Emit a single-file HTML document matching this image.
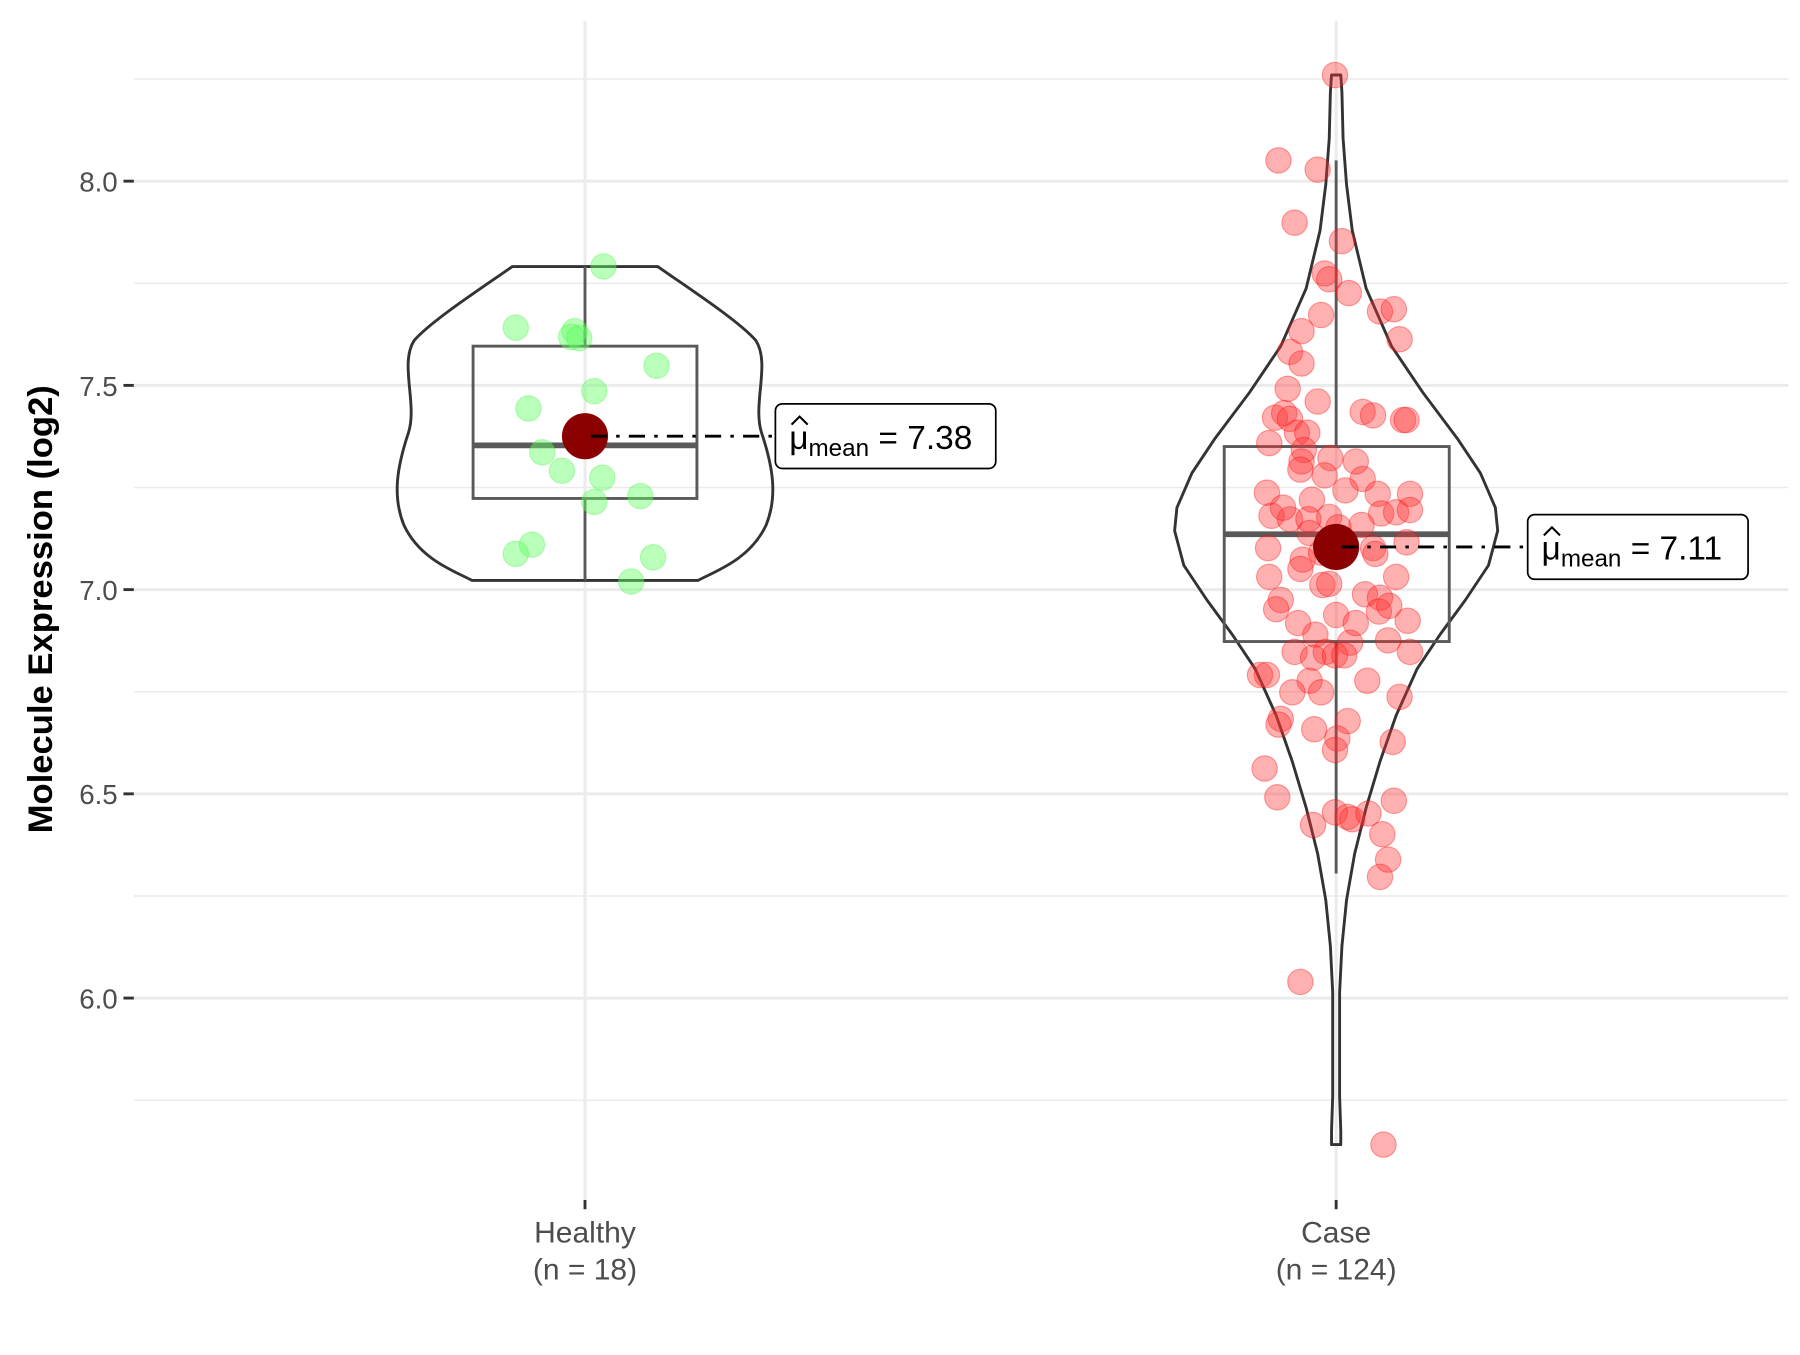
<!DOCTYPE html>
<html><head><style>html,body{margin:0;padding:0;background:#fff}</style></head><body>
<svg width="1800" height="1350" viewBox="0 0 1560 1170" xmlns="http://www.w3.org/2000/svg" font-family="Liberation Sans, sans-serif">
<rect width="1560" height="1170" fill="#fff"/>
<g stroke="#ebebeb" stroke-width="1.3">
<line x1="116" x2="1550" y1="68.5" y2="68.5"/><line x1="116" x2="1550" y1="245.5" y2="245.5"/>
<line x1="116" x2="1550" y1="422.5" y2="422.5"/><line x1="116" x2="1550" y1="599.5" y2="599.5"/>
<line x1="116" x2="1550" y1="776.5" y2="776.5"/><line x1="116" x2="1550" y1="953.5" y2="953.5"/>
</g>
<g stroke="#ebebeb" stroke-width="2.6">
<line x1="116" x2="1550" y1="157" y2="157"/><line x1="116" x2="1550" y1="334" y2="334"/>
<line x1="116" x2="1550" y1="511" y2="511"/><line x1="116" x2="1550" y1="688" y2="688"/>
<line x1="116" x2="1550" y1="865" y2="865"/>
<line x1="507" x2="507" y1="18" y2="1040"/><line x1="1158" x2="1158" y1="18" y2="1040"/>
</g>
<g stroke="#333" stroke-width="2.5">
<line x1="107" x2="116" y1="157" y2="157"/><line x1="107" x2="116" y1="334" y2="334"/>
<line x1="107" x2="116" y1="511" y2="511"/><line x1="107" x2="116" y1="688" y2="688"/>
<line x1="107" x2="116" y1="865" y2="865"/>
<line x1="507" x2="507" y1="1040" y2="1048"/><line x1="1158" x2="1158" y1="1040" y2="1048"/>
</g>
<g font-size="24" fill="#4d4d4d" text-anchor="end">
<text x="102" y="166">8.0</text><text x="102" y="343">7.5</text><text x="102" y="520">7.0</text>
<text x="102" y="697">6.5</text><text x="102" y="874">6.0</text>
</g>
<g font-size="26" fill="#4d4d4d" text-anchor="middle">
<text x="507" y="1077">Healthy</text><text x="507" y="1109">(n = 18)</text>
<text x="1158" y="1077">Case</text><text x="1158" y="1109">(n = 124)</text>
</g>
<text transform="translate(45,528) rotate(-90)" font-size="30" font-weight="bold" text-anchor="middle">Molecule Expression (log2)</text>

<!-- Healthy violin -->
<path d="M444,231 L570,231 C600,252 640,278 655,295 C668,315 652,350 660,375 C670,405 674,430 664,455 C650,485 620,495 605,503 L409,503 C394,495 364,485 350,455 C340,430 344,405 354,375 C362,350 346,315 359,295 C374,278 414,252 444,231 Z" fill="none" stroke="#333" stroke-width="2.5"/>
<line x1="507" x2="507" y1="231" y2="300" stroke="#595959" stroke-width="2.5"/>
<line x1="507" x2="507" y1="432" y2="503" stroke="#595959" stroke-width="2.5"/>
<rect x="410" y="300" width="194" height="132" fill="none" stroke="#595959" stroke-width="2.5"/>
<line x1="410" x2="604" y1="386" y2="386" stroke="#595959" stroke-width="5"/>
<g fill="#66ff66" fill-opacity="0.45" stroke="#33ee33" stroke-opacity="0.3" stroke-width="1">
<circle cx="447" cy="284" r="11"/><circle cx="523" cy="231" r="11"/><circle cx="498" cy="287" r="11"/>
<circle cx="502" cy="293" r="11"/><circle cx="495" cy="292" r="11"/><circle cx="569" cy="317" r="11"/>
<circle cx="515" cy="339" r="11"/><circle cx="458" cy="354" r="11"/><circle cx="470" cy="392" r="11"/>
<circle cx="487" cy="408" r="11"/><circle cx="522" cy="414" r="11"/><circle cx="555" cy="430" r="11"/>
<circle cx="515" cy="435" r="11"/><circle cx="461" cy="472" r="11"/><circle cx="447" cy="480" r="11"/>
<circle cx="566" cy="483" r="11"/><circle cx="547" cy="504" r="11"/><circle cx="505" cy="376" r="11"/>
</g>
<circle cx="507" cy="378" r="20" fill="#8b0000"/>
<line x1="512" x2="672" y1="378" y2="378" stroke="#000" stroke-width="2.5" stroke-dasharray="14,8,3,8"/>
<rect x="672" y="350" width="191" height="56" rx="6" fill="#fff" stroke="#000" stroke-width="1.5"/>
<text x="684" y="389" font-size="29"><tspan>μ</tspan><tspan font-size="21" dy="6">mean</tspan><tspan dy="-6" font-size="29"> = 7.38</tspan></text>
<path d="M686,368 L693,361 L700,368" fill="none" stroke="#000" stroke-width="1.8"/>

<!-- Case violin -->
<path d="M1154,65 L1162,65 L1163,80 L1164,120 L1167,160 L1172,200 L1184,250 L1206,300 L1233,340 L1263,380 L1283,410 L1296,440 L1298,460 L1290,490 L1270,520 L1248,550 L1228,580 L1210,620 L1196,660 L1184,700 L1174,740 L1167,780 L1163,820 L1161,860 L1161,900 L1161,950 L1162,980 L1162,992 L1154,992 L1154,980 L1155,950 L1155,900 L1155,860 L1153,820 L1149,780 L1142,740 L1132,700 L1120,660 L1106,620 L1088,580 L1068,550 L1046,520 L1026,490 L1018,460 L1020,440 L1033,410 L1053,380 L1083,340 L1110,300 L1132,250 L1144,200 L1149,160 L1152,120 L1153,80 Z" fill="none" stroke="#333" stroke-width="2.5" stroke-linejoin="round"/>
<line x1="1158" x2="1158" y1="139" y2="387" stroke="#595959" stroke-width="2.5"/>
<line x1="1158" x2="1158" y1="556" y2="757" stroke="#595959" stroke-width="2.5"/>
<rect x="1061" y="387" width="195" height="169" fill="none" stroke="#595959" stroke-width="2.5"/>
<line x1="1061" x2="1256" y1="463" y2="463" stroke="#595959" stroke-width="5"/>
<g fill="#ff3333" fill-opacity="0.38" stroke="#ff0000" stroke-opacity="0.35" stroke-width="1">
<circle cx="1157" cy="65" r="11"/><circle cx="1108" cy="139" r="11"/><circle cx="1142" cy="147" r="11"/><circle cx="1122" cy="193" r="11"/><circle cx="1163" cy="209" r="11"/><circle cx="1148" cy="237" r="11"/><circle cx="1152" cy="242" r="11"/><circle cx="1169" cy="254" r="11"/><circle cx="1145" cy="273" r="11"/><circle cx="1196" cy="270" r="11"/><circle cx="1208" cy="268" r="11"/><circle cx="1213" cy="294" r="11"/><circle cx="1128" cy="287" r="11"/><circle cx="1118" cy="305" r="11"/><circle cx="1128" cy="315" r="11"/><circle cx="1116" cy="337" r="11"/><circle cx="1142" cy="348" r="11"/><circle cx="1181" cy="357" r="11"/><circle cx="1190" cy="360" r="11"/><circle cx="1216" cy="364" r="11"/><circle cx="1219" cy="364" r="11"/><circle cx="1105" cy="362" r="11"/><circle cx="1113" cy="358" r="11"/><circle cx="1118" cy="363" r="11"/><circle cx="1124" cy="375" r="11"/><circle cx="1133" cy="375" r="11"/><circle cx="1100" cy="384" r="11"/><circle cx="1130" cy="390" r="11"/><circle cx="1128" cy="400" r="11"/><circle cx="1153" cy="397" r="11"/><circle cx="1127" cy="407" r="11"/><circle cx="1148" cy="412" r="11"/><circle cx="1098" cy="427" r="11"/><circle cx="1181" cy="415" r="11"/><circle cx="1194" cy="428" r="11"/><circle cx="1222" cy="428" r="11"/><circle cx="1137" cy="433" r="11"/><circle cx="1166" cy="425" r="11"/><circle cx="1102" cy="447" r="11"/><circle cx="1118" cy="450" r="11"/><circle cx="1134" cy="450" r="11"/><circle cx="1152" cy="448" r="11"/><circle cx="1197" cy="445" r="11"/><circle cx="1210" cy="444" r="11"/><circle cx="1222" cy="442" r="11"/><circle cx="1180" cy="455" r="11"/><circle cx="1160" cy="457" r="11"/><circle cx="1099" cy="475" r="11"/><circle cx="1129" cy="485" r="11"/><circle cx="1135" cy="462" r="11"/><circle cx="1145" cy="479" r="11"/><circle cx="1190" cy="475" r="11"/><circle cx="1192" cy="480" r="11"/><circle cx="1219" cy="470" r="11"/><circle cx="1127" cy="493" r="11"/><circle cx="1146" cy="507" r="11"/><circle cx="1152" cy="506" r="11"/><circle cx="1183" cy="515" r="11"/><circle cx="1110" cy="520" r="11"/><circle cx="1106" cy="528" r="11"/><circle cx="1125" cy="540" r="11"/><circle cx="1158" cy="533" r="11"/><circle cx="1196" cy="518" r="11"/><circle cx="1195" cy="530" r="11"/><circle cx="1204" cy="525" r="11"/><circle cx="1220" cy="538" r="11"/><circle cx="1140" cy="550" r="11"/><circle cx="1170" cy="557" r="11"/><circle cx="1122" cy="565" r="11"/><circle cx="1149" cy="565" r="11"/><circle cx="1138" cy="570" r="11"/><circle cx="1157" cy="568" r="11"/><circle cx="1165" cy="568" r="11"/><circle cx="1203" cy="555" r="11"/><circle cx="1222" cy="565" r="11"/><circle cx="1092" cy="585" r="11"/><circle cx="1098" cy="585" r="11"/><circle cx="1135" cy="590" r="11"/><circle cx="1213" cy="604" r="11"/><circle cx="1110" cy="623" r="11"/><circle cx="1108" cy="628" r="11"/><circle cx="1139" cy="632" r="11"/><circle cx="1168" cy="625" r="11"/><circle cx="1159" cy="640" r="11"/><circle cx="1157" cy="650" r="11"/><circle cx="1207" cy="643" r="11"/><circle cx="1096" cy="666" r="11"/><circle cx="1107" cy="691" r="11"/><circle cx="1208" cy="694" r="11"/><circle cx="1138" cy="715" r="11"/><circle cx="1157" cy="704" r="11"/><circle cx="1168" cy="708" r="11"/><circle cx="1172" cy="710" r="11"/><circle cx="1186" cy="705" r="11"/><circle cx="1198" cy="723" r="11"/><circle cx="1203" cy="745" r="11"/><circle cx="1196" cy="760" r="11"/><circle cx="1127" cy="851" r="11"/><circle cx="1199" cy="992" r="11"/>
<circle cx="1112" cy="440" r="11"/><circle cx="1175" cy="400" r="11"/><circle cx="1100" cy="500" r="11"/><circle cx="1210" cy="500" r="11"/><circle cx="1175" cy="540" r="11"/><circle cx="1120" cy="600" r="11"/><circle cx="1185" cy="590" r="11"/><circle cx="1145" cy="600" r="11"/>
</g>
<circle cx="1158" cy="474" r="20" fill="#8b0000"/>
<line x1="1163" x2="1324" y1="474" y2="474" stroke="#000" stroke-width="2.5" stroke-dasharray="14,8,3,8"/>
<rect x="1324" y="446" width="191" height="56" rx="6" fill="#fff" stroke="#000" stroke-width="1.5"/>
<text x="1336" y="485" font-size="29"><tspan>μ</tspan><tspan font-size="21" dy="6">mean</tspan><tspan dy="-6" font-size="29"> = 7.11</tspan></text>
<path d="M1338,464 L1345,457 L1352,464" fill="none" stroke="#000" stroke-width="1.8"/>
</svg>
</body></html>
